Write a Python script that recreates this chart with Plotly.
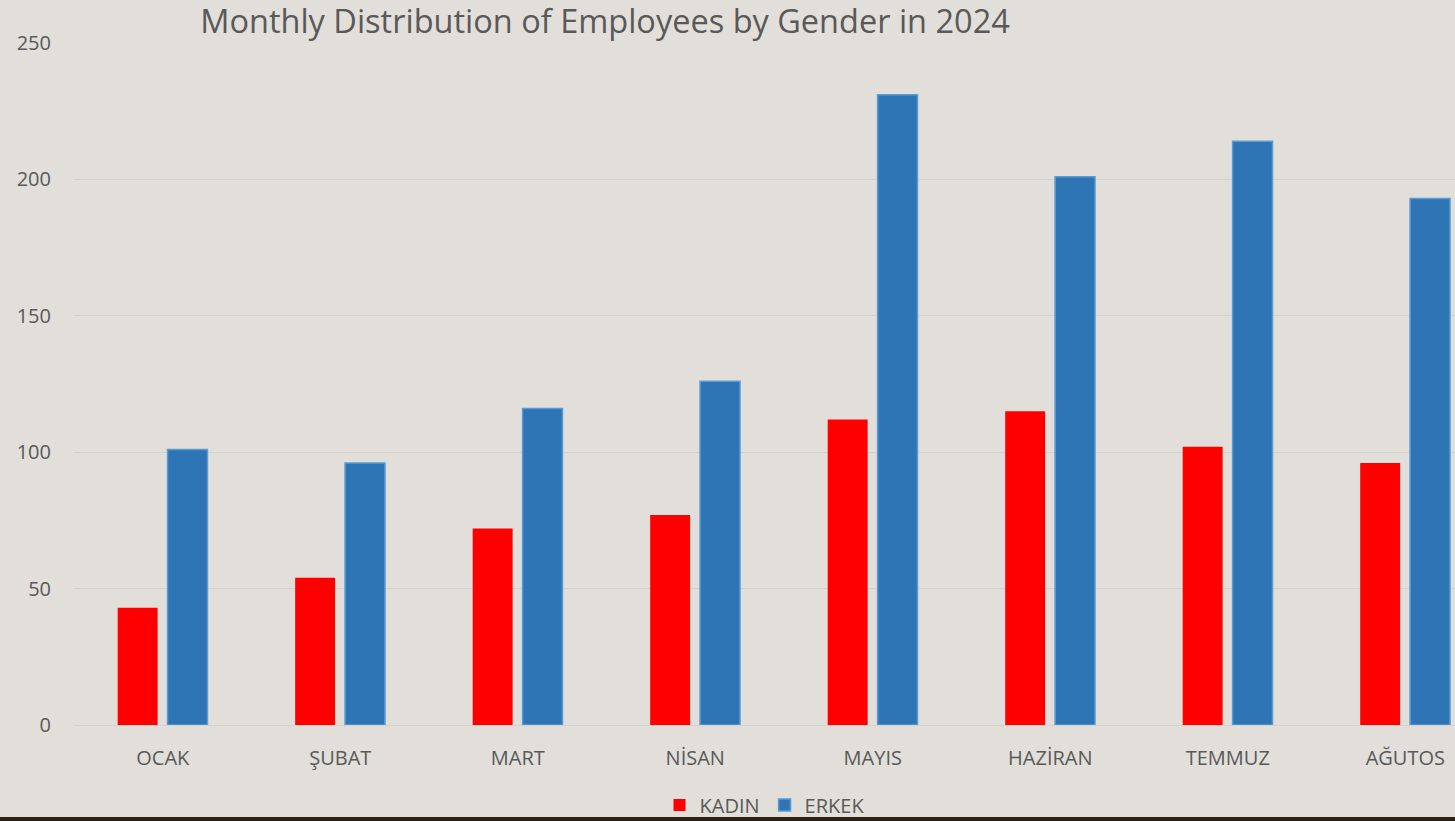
import plotly.graph_objects as go

months = ["OCAK", "ŞUBAT", "MART", "NİSAN", "MAYIS", "HAZİRAN", "TEMMUZ", "AĞUTOS"]
kadin = [43, 54, 72, 77, 112, 115, 102, 96]
erkek = [101, 96, 116, 126, 231, 201, 214, 193]

title_text = "Monthly Distribution of Employees by Gender in 2024"
text_color = "#595959"
font_family = "Open Sans"

fig = go.Figure()
fig.add_trace(go.Bar(
    x=months, y=kadin, name="KADIN",
    marker=dict(color="#FF0000", line=dict(width=0)),
    width=0.225, offset=-0.254,
))
fig.add_trace(go.Bar(
    x=months, y=erkek, name="ERKEK",
    marker=dict(color="#2E75B6", line=dict(color="#5B9BD5", width=1.5)),
    width=0.225, offset=0.027,
))

fig.update_layout(
    width=1455, height=821,
    paper_bgcolor="#E2DFDA", plot_bgcolor="rgba(0,0,0,0)",
    margin=dict(l=74, r=0, t=43, b=96, autoexpand=False),
    barmode="group",
    title=dict(text=title_text, x=605 / 1455, xanchor="center", y=1 - 22 / 821, yanchor="middle",
               font=dict(family=font_family, size=32.5, color=text_color)),
    font=dict(family=font_family, size=20, color=text_color),
    xaxis=dict(range=[-0.5, 7.28], showgrid=False, showline=False, zeroline=False,
               ticks="", tickfont=dict(size=20, color=text_color), ticklabelstandoff=19),
    yaxis=dict(range=[0, 250], dtick=50, showgrid=True, gridcolor="#D4D2CE", gridwidth=1,
               zeroline=True, zerolinecolor="#D4D2CE", zerolinewidth=1, showline=False,
               ticks="", tickfont=dict(size=20, color=text_color), ticklabelstandoff=22),
    showlegend=True,
    legend=dict(orientation="h", x=0.5, xanchor="center",
                yref="container", y=1 - 805 / 821, yanchor="middle",
                bgcolor="rgba(0,0,0,0)", font=dict(size=20, color=text_color),
                itemwidth=30, traceorder="normal"),
    shapes=[dict(type="rect", xref="paper", yref="paper", x0=-0.06, x1=1.0,
                 y0=-0.145, y1=(725 - 817) / 682, fillcolor="#2B2116", line=dict(width=0),
                 layer="above")],
)

post = (
    "document.documentElement.style.margin='0';"
    "document.documentElement.style.padding='0';"
    "document.documentElement.style.overflow='hidden';"
    "document.documentElement.style.height='821px';"
    "document.body.style.margin='0';"
    "document.body.style.padding='0';"
    "document.body.style.overflow='hidden';"
    "document.body.style.height='821px';"
)

fig.write_html("out.html", config={"displayModeBar": False}, post_script=post)
